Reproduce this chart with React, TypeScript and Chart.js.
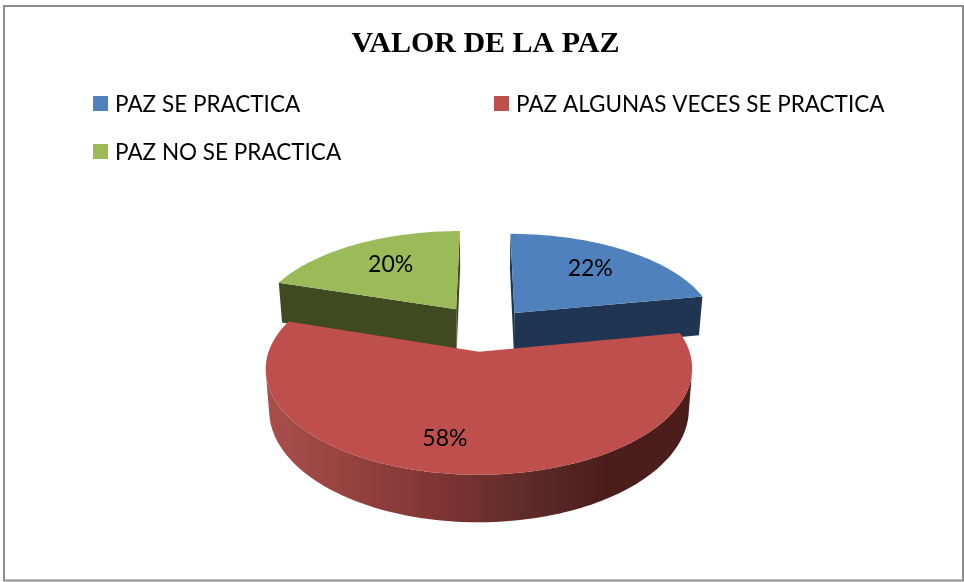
import React, { useEffect, useRef } from "react";
import { Chart, registerables } from "chart.js";

Chart.register(...registerables);

const titleText = "VALOR DE LA PAZ";
const categories = ["PAZ SE PRACTICA", "PAZ ALGUNAS VECES SE PRACTICA", "PAZ NO SE PRACTICA"];
const shares = [22, 58, 20];
const faceColors = ["#4f81bd", "#be4f4c", "#9bbb59"];
const wallColors = ["#1f3552", "#7a3533", "#404a20"];

const UI_FONT = "Lato, 'Open Sans', sans-serif";

// perspective projection of the pie's plane on to the page
const VIEW = { x0: 484, y0: 329, sx: 203, sy: 96, persp: 0.155, turn: 0.04, taper: 0.016 };
const DEPTH = [41, 38.5, 43];
const EXPLODE = [0.23, 0.23, 0.255];
const LABEL_AT = [
  { r: 0.672, shift: -0.005 },
  { r: 0.755, shift: 0.124 },
  { r: 0.65, shift: 0.02 },
];
const LEGEND_AT = [
  { x: 93, y: 96 },
  { x: 494, y: 96 },
  { x: 93, y: 144 },
];

type P = { x: number; y: number };

function project(u: number, v: number, z: number): P {
  const w = 1 - VIEW.persp * v;
  return {
    x: VIEW.x0 + ((VIEW.sx * u) / w) * (1 - VIEW.taper * (z ? 1 : 0)),
    y: VIEW.y0 + (VIEW.sy * v + z) / w,
  };
}

function fillPoly(ctx: CanvasRenderingContext2D, pts: P[], fill: string | CanvasGradient) {
  ctx.beginPath();
  pts.forEach((p, i) => (i ? ctx.lineTo(p.x, p.y) : ctx.moveTo(p.x, p.y)));
  ctx.closePath();
  ctx.fillStyle = fill;
  ctx.fill();
}

function area(p: P[]) {
  let s = 0;
  p.forEach((a, i) => {
    const b = p[(i + 1) % p.length];
    s += a.x * b.y - b.x * a.y;
  });
  return s / 2;
}

function sliceGeometry(arc: any, i: number) {
  const { startAngle, endAngle } = arc.getProps(["startAngle", "endAngle"], true);
  const mid = (startAngle + endAngle) / 2;
  const dir = mid + VIEW.turn;
  return {
    startAngle,
    endAngle,
    mid,
    cu: EXPLODE[i] * Math.cos(dir),
    cv: EXPLODE[i] * Math.sin(dir),
  };
}

const pie3d = {
  id: "pie3d",
  beforeDatasetsDraw(chart: any) {
    const ctx: CanvasRenderingContext2D = chart.ctx;
    const arcs = chart.getDatasetMeta(0).data;
    const geometry = arcs.map(sliceGeometry);
    // back slices first, the front slice last
    const order = geometry
      .map((g: any, i: number) => ({ i, v: g.cv }))
      .sort((a: any, b: any) => a.v - b.v);
    order.forEach(({ i }: any) => {
      const g = geometry[i];
      const n = Math.max(8, Math.round((g.endAngle - g.startAngle) * 40));
      const ring: { u: number; v: number }[] = [];
      for (let k = 0; k <= n; k++) {
        const a = g.startAngle + ((g.endAngle - g.startAngle) * k) / n;
        ring.push({ u: g.cu + Math.cos(a), v: g.cv + Math.sin(a) });
      }
      const apexT = project(g.cu, g.cv, 0);
      const apexB = project(g.cu, g.cv, DEPTH[i]);
      const rimT = ring.map((r) => project(r.u, r.v, 0));
      const rimB = ring.map((r) => project(r.u, r.v, DEPTH[i]));

      // cut walls
      const wall = (qa: P[], reversed: boolean) => {
        const s = area(qa) * (reversed ? -1 : 1);
        if (s > 0) fillPoly(ctx, qa, wallColors[i]);
      };
      wall([apexT, rimT[0], rimB[0], apexB], true);
      wall([apexT, rimT[n], rimB[n], apexB], false);

      // rim wall, shaded across the page for the big front slice
      const xs = rimT.map((p: P) => p.x);
      const grad = ctx.createLinearGradient(Math.min(...xs), 0, Math.max(...xs), 0);
      if (i === 1) {
        grad.addColorStop(0, "#a94f4c");
        grad.addColorStop(0.35, "#863836");
        grad.addColorStop(0.62, "#5e2a28");
        grad.addColorStop(0.8, "#4b1d1b");
        grad.addColorStop(1, "#4b1d1b");
      } else {
        grad.addColorStop(0, wallColors[i]);
        grad.addColorStop(1, wallColors[i]);
      }
      let run: number[] = [];
      const flush = () => {
        if (run.length > 1) {
          fillPoly(ctx, [...run.map((k) => rimT[k]), ...run.map((k) => rimB[k]).reverse()], grad);
        }
        run = [];
      };
      for (let k = 0; k < n; k++) {
        const q = [rimT[k], rimT[k + 1], rimB[k + 1], rimB[k]];
        if (area(q) < 0) {
          if (!run.length) run.push(k);
          run.push(k + 1);
        } else {
          flush();
        }
      }
      flush();
      // top face
      fillPoly(ctx, [apexT, ...rimT], faceColors[i]);
    });
    return false;
  },
  afterDraw(chart: any) {
    const ctx: CanvasRenderingContext2D = chart.ctx;
    const arcs = chart.getDatasetMeta(0).data;
    ctx.save();
    ctx.textAlign = "center";
    ctx.textBaseline = "middle";
    ctx.font = `23px ${UI_FONT}`;
    ctx.fillStyle = "#000";
    arcs.forEach((arc: any, i: number) => {
      const g = sliceGeometry(arc, i);
      const a = g.mid + LABEL_AT[i].shift;
      const u = g.cu + LABEL_AT[i].r * Math.cos(a);
      const v = g.cv + LABEL_AT[i].r * Math.sin(a);
      const p = project(u, v, 0);
      ctx.fillText(`${shares[i]}%`, p.x, p.y);
    });
    // legend
    ctx.textAlign = "left";
    ctx.font = `22.5px ${UI_FONT}`;
    categories.forEach((name, i) => {
      const at = LEGEND_AT[i];
      ctx.fillStyle = faceColors[i];
      ctx.fillRect(at.x, at.y, 15, 15);
      ctx.fillStyle = "#000";
      ctx.fillText(name, at.x + 22, at.y + 9);
    });
    ctx.restore();
  },
  beforeDraw(chart: any) {
    const ctx: CanvasRenderingContext2D = chart.ctx;
    ctx.save();
    ctx.fillStyle = "#fff";
    ctx.fillRect(0, 0, chart.width, chart.height);
    ctx.strokeStyle = "#8c8c8c";
    ctx.lineWidth = 2;
    ctx.strokeRect(4, 6, 959, 574.5);
    ctx.restore();
  },
};

export default function App() {
  const ref = useRef<HTMLCanvasElement>(null);
  useEffect(() => {
    const chart = new Chart(ref.current!, {
      type: "pie",
      data: {
        labels: categories,
        datasets: [{ data: shares, backgroundColor: faceColors, borderWidth: 0 }],
      },
      options: {
        animation: false,
        responsive: false,
        layout: { padding: { top: 20, left: 7 } },
        plugins: {
          legend: { display: false },
          tooltip: { enabled: false },
          title: {
            display: true,
            text: titleText,
            color: "#000",
            font: { family: "'Liberation Serif', serif", size: 30, weight: "bold" },
            padding: { top: 6, bottom: 0 },
          },
        },
      },
      plugins: [pie3d],
    } as any);
    return () => chart.destroy();
  }, []);
  return (
    <canvas
      ref={ref}
      width={964}
      height={582}
      style={{ position: "absolute", left: 0, top: 0, width: 964, height: 582 }}
    />
  );
}
